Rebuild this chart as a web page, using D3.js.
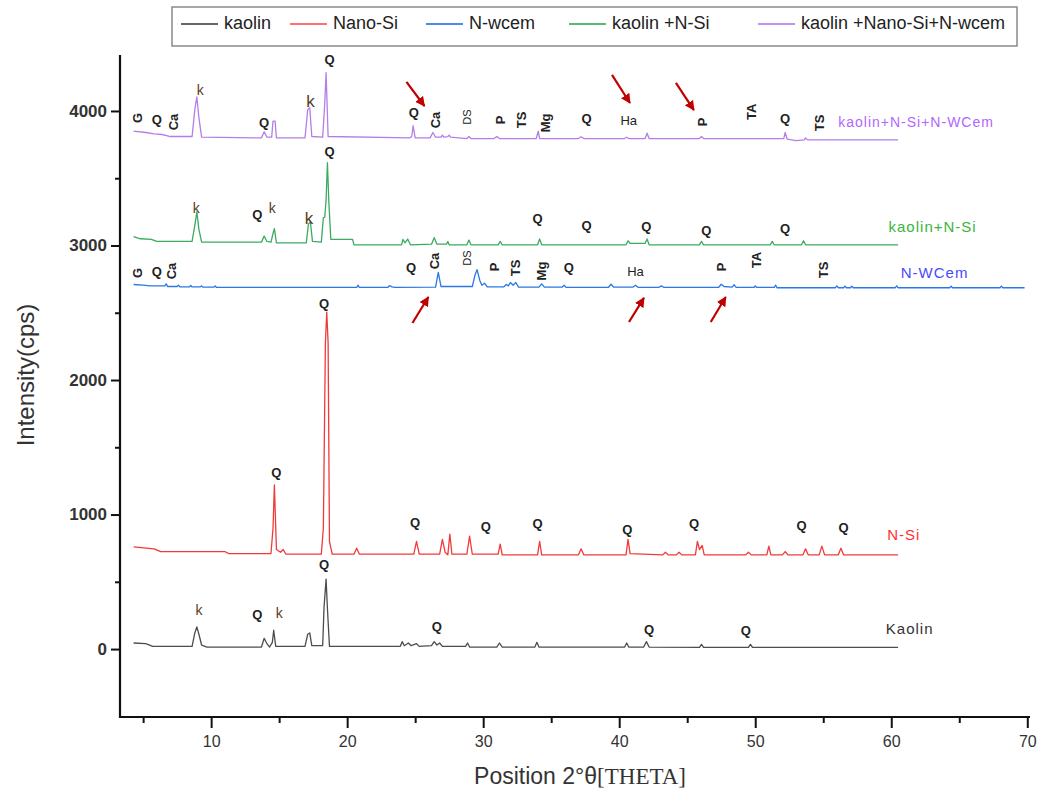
<!DOCTYPE html>
<html>
<head>
<meta charset="utf-8">
<script src="https://cdn.jsdelivr.net/npm/d3@7/dist/d3.min.js"></script>
<style>
  body { margin: 0; background: #fff; }
  svg { display: block; font-family: "Liberation Sans", Arial, sans-serif; }
</style>
</head>
<body>
<svg id="xrd-chart" width="1037" height="796"></svg>
<script>
// ---- data: [2theta, intensity(cps)] ----
const kaolin = [[4.3,45],[5.2,40],[5.7,20],[8.6,20],[8.8,120],[8.95,165],[9.1,110],[9.3,30],[9.7,15],[13.7,15],[13.9,80],[14.1,40],[14.3,15],[14.5,50],[14.6,140],[14.75,20],[16.9,20],[17.1,110],[17.25,120],[17.4,25],[18.2,25],[18.3,310],[18.45,520],[18.55,300],[18.7,20],[23.9,20],[24.05,55],[24.2,25],[24.5,45],[24.7,25],[25.1,40],[25.3,20],[26.2,25],[26.4,55],[26.6,30],[26.8,45],[27.0,20],[28.7,20],[28.85,45],[29.0,15],[31.0,15],[31.2,45],[31.4,15],[33.8,15],[33.95,50],[34.1,15],[40.4,15],[40.55,45],[40.7,15],[41.8,15],[42.0,55],[42.2,15],[45.9,12],[46.05,35],[46.2,12],[49.5,12],[49.65,35],[49.8,12],[60.5,12]];

const nanoSi = [[4.3,760],[5.8,745],[6.3,725],[11.0,725],[11.3,710],[14.4,710],[14.55,900],[14.65,1220],[14.8,740],[15.1,720],[15.3,740],[15.5,705],[18.1,705],[18.25,900],[18.4,2275],[18.5,2505],[18.6,2275],[18.7,800],[18.9,705],[20.5,705],[20.7,750],[20.9,705],[24.9,705],[25.1,800],[25.3,705],[26.8,705],[27.0,815],[27.2,720],[27.4,700],[27.55,855],[27.7,705],[28.8,705],[29.0,840],[29.2,705],[31.1,705],[31.25,780],[31.4,700],[34.0,700],[34.15,800],[34.3,700],[37.0,700],[37.2,745],[37.4,700],[40.5,700],[40.65,815],[40.8,710],[43.2,700],[43.4,720],[43.6,700],[44.2,700],[44.4,720],[44.6,700],[45.6,700],[45.75,800],[45.9,740],[46.1,770],[46.25,700],[49.3,700],[49.5,720],[49.7,700],[50.85,700],[51.0,765],[51.15,700],[52.0,700],[52.2,725],[52.4,700],[53.5,700],[53.7,745],[53.9,700],[54.7,700],[54.9,765],[55.1,700],[56.1,700],[56.3,750],[56.5,700],[60.5,700]];

const nWcem = [[4.3,2710],[5.0,2705],[5.5,2700],[6.6,2700],[6.7,2715],[6.8,2695],[7.5,2695],[7.6,2705],[7.7,2692],[8.4,2692],[8.5,2702],[8.6,2692],[9.2,2692],[9.3,2700],[9.4,2690],[10.2,2690],[10.3,2700],[10.4,2688],[20.7,2688],[20.8,2705],[20.9,2688],[23.0,2688],[23.1,2702],[23.3,2692],[23.5,2688],[26.5,2690],[26.7,2800],[26.9,2695],[29.2,2695],[29.4,2780],[29.55,2820],[29.75,2740],[29.9,2705],[30.1,2720],[30.3,2692],[31.5,2692],[31.7,2710],[31.85,2700],[32.0,2725],[32.2,2705],[32.4,2725],[32.6,2690],[34.1,2690],[34.3,2715],[34.5,2690],[35.8,2690],[35.95,2705],[36.1,2688],[39.2,2688],[39.4,2712],[39.6,2690],[41.0,2690],[41.2,2705],[41.4,2688],[42.9,2688],[43.1,2700],[43.3,2688],[47.3,2688],[47.5,2712],[47.7,2695],[48.3,2690],[48.45,2708],[48.6,2688],[49.9,2688],[50.0,2700],[50.1,2688],[51.4,2688],[51.5,2705],[51.6,2686],[55.9,2686],[56.0,2700],[56.1,2686],[56.5,2686],[56.6,2698],[56.7,2686],[57.0,2686],[57.1,2698],[57.2,2686],[60.3,2686],[60.4,2700],[60.5,2686],[64.3,2686],[64.4,2698],[64.5,2686],[68.0,2686],[68.1,2698],[68.2,2686],[69.8,2686]];

const kaolinNSi = [[4.3,3065],[4.8,3050],[5.6,3045],[6.0,3030],[8.6,3030],[8.8,3150],[8.95,3250],[9.1,3120],[9.3,3025],[13.7,3025],[13.9,3070],[14.1,3030],[14.4,3025],[14.55,3090],[14.65,3125],[14.8,3020],[17.0,3020],[17.15,3160],[17.3,3175],[17.45,3030],[18.1,3025],[18.25,3205],[18.35,3210],[18.45,3338],[18.55,3615],[18.65,3330],[18.8,3045],[20.4,3045],[20.5,3005],[24.0,3005],[24.1,3045],[24.25,3020],[24.45,3048],[24.65,3005],[26.2,3010],[26.4,3058],[26.6,3010],[27.3,3010],[27.4,3030],[27.5,3005],[28.8,3005],[28.95,3040],[29.1,3005],[31.1,3005],[31.25,3030],[31.4,3005],[34.0,3005],[34.15,3048],[34.3,3005],[40.5,3005],[40.65,3035],[40.8,3015],[41.9,3015],[42.05,3048],[42.2,3005],[45.9,3005],[46.05,3030],[46.2,3005],[51.1,3005],[51.25,3030],[51.4,3005],[53.4,3005],[53.55,3035],[53.7,3005],[60.5,3005]];

const kaolinAll = [[4.3,3850],[5.2,3840],[5.8,3830],[6.4,3825],[7.0,3810],[8.6,3810],[8.8,4010],[8.95,4105],[9.1,3950],[9.3,3805],[13.7,3800],[13.9,3845],[14.1,3805],[14.45,3805],[14.55,3925],[14.7,3925],[14.8,3800],[16.9,3800],[17.1,4010],[17.25,4025],[17.4,3810],[18.2,3805],[18.35,4050],[18.45,4285],[18.6,3810],[24.6,3800],[24.75,3810],[24.85,3890],[25.0,3800],[26.1,3800],[26.3,3840],[26.5,3805],[26.9,3805],[27.0,3820],[27.1,3805],[27.4,3810],[27.5,3820],[27.6,3805],[28.8,3795],[28.95,3810],[29.1,3795],[30.8,3795],[31.0,3810],[31.2,3795],[33.9,3795],[34.05,3850],[34.15,3795],[37.0,3795],[37.2,3808],[37.4,3795],[40.4,3795],[40.55,3805],[40.7,3795],[41.9,3795],[42.05,3835],[42.2,3795],[45.9,3795],[46.05,3810],[46.2,3795],[52.1,3795],[52.2,3840],[52.35,3790],[53.0,3780],[53.6,3785],[53.7,3800],[53.85,3785],[60.5,3785]];

// phase labels: [text, 2theta, intensity, rotated]
const kaolinLabels = [["k",9.1,290],["Q",13.4,260],["k",15.0,268],["Q",18.3,625],["Q",26.6,171],["Q",42.2,149],["Q",49.3,141]];
const nanoSiLabels = [["Q",14.8,1309],["Q",18.3,2572],["Q",25.0,944],["Q",30.2,914],["Q",34.0,937],["Q",40.6,892],["Q",45.5,937],["Q",53.4,922],["Q",56.5,900]];
const nWcemLabels = [["G",4.55,2796,1],["Q",6.0,2803],["Ca",7.1,2810,1],["Q",24.7,2833],["Ca",26.4,2885,1],["DS",28.8,2907,1],["P",30.8,2840,1],["TS",32.4,2833,1],["Mg",34.3,2810,1],["Q",36.3,2833],["Ha",41.2,2803],["P",47.5,2840,1],["TA",50.1,2892,1],["TS",55.0,2818,1]];
const kaolinNSiLabels = [["k",8.9,3279],["Q",13.4,3227],["k",14.5,3279],["K",17.2,3204],["Q",18.7,3695],["Q",34.0,3197],["Q",37.6,3145],["Q",42.0,3138],["Q",46.4,3115],["Q",52.2,3123]];
const kaolinAllLabels = [["G",4.55,3948,1],["Q",6.0,3933],["Ca",7.2,3918,1],["k",9.2,4156],["Q",13.9,3911],["K",17.3,4067],["Q",18.7,4379],["Q",24.9,3985],["Ca",26.5,3933,1],["DS",28.8,3955,1],["P",31.3,3933,1],["TS",32.8,3933,1],["Mg",34.6,3911,1],["Q",37.6,3941],["Ha",40.7,3926],["P",46.1,3918,1],["TA",49.7,3993,1],["Q",52.2,3941],["TS",54.7,3911,1]];

// red arrows: [tail 2theta, tail cps, head 2theta, head cps]
const arrows = [[24.36,4216,25.68,4037],[39.47,4268,40.79,4059],[44.17,4208,45.49,4007],[24.8,2424,25.97,2617],[40.72,2431,41.82,2610],[46.73,2431,47.83,2617]];

const seriesNames = ["kaolin", "Nano-Si", "N-wcem", "kaolin +N-Si", "kaolin +Nano-Si+N-wcem"];
const traceNames = ["Kaolin", "N-Si", "N-WCem", "kaolin+N-Si", "kaolin+N-Si+N-WCem"];
const traceNameAt = [[59.6,156],[59.7,848],[60.7,2796],[59.8,3138],[56.1,3918]];
const xTicks = [10, 20, 30, 40, 50, 60, 70];
const xMinor = [5, 15, 25, 35, 45, 55, 65];
const yTicks = [0, 1000, 2000, 3000, 4000];
const yMinor = [500, 1500, 2500, 3500];

const seriesData = [kaolin, nanoSi, nWcem, kaolinNSi, kaolinAll];
const seriesLabels = [kaolinLabels, nanoSiLabels, nWcemLabels, kaolinNSiLabels, kaolinAllLabels];
const colors = ['#4d4d4d', '#f03a3a', '#2a78e4', '#3caa60', '#b47ee8'];
const legendColors = ['#666', '#ff7070', '#4a8ce8', '#55bb77', '#c392f0'];
const nameColors = ['#333', '#ff3030', '#4a4aff', '#3cb43c', '#b266ff'];

const svg = d3.select('#xrd-chart');

const xScale = d3.scaleLinear().domain([3.3, 70.2]).range([120, 1030]);
const yScale = d3.scaleLinear().domain([-505, 4416]).range([717, 55]);

// axes
const xAxisG = svg.append('g').attr('transform', `translate(0, ${yScale.range()[0]})`);
xAxisG.call(d3.axisBottom(xScale).tickValues(xTicks).tickSize(11).tickPadding(8).tickFormat(d3.format('d')));
xAxisG.append('g').call(d3.axisBottom(xScale).tickValues(xMinor).tickSize(6).tickFormat(''));
xAxisG.selectAll('.domain').remove();
xAxisG.selectAll('line').attr('stroke', '#111').attr('stroke-width', 2);
xAxisG.selectAll('text').attr('font-size', 16).attr('fill', '#333');

const yAxisG = svg.append('g').attr('transform', `translate(${xScale.range()[0]}, 0)`);
yAxisG.call(d3.axisLeft(yScale).tickValues(yTicks).tickSize(9).tickPadding(4).tickFormat(d3.format('d')));
yAxisG.append('g').call(d3.axisLeft(yScale).tickValues(yMinor).tickSize(5).tickFormat(''));
yAxisG.selectAll('.domain').remove();
yAxisG.selectAll('line').attr('stroke', '#111').attr('stroke-width', 2);
yAxisG.selectAll('text').attr('font-size', 17).attr('font-weight', 'bold').attr('fill', '#333');

// axis lines
svg.append('line')
  .attr('x1', xScale.range()[0]).attr('x2', xScale.range()[0])
  .attr('y1', yScale.range()[1]).attr('y2', yScale.range()[0] + 1)
  .attr('stroke', '#111').attr('stroke-width', 2.2);
svg.append('line')
  .attr('x1', xScale.range()[0] - 1).attr('x2', xScale.range()[1])
  .attr('y1', yScale.range()[0]).attr('y2', yScale.range()[0])
  .attr('stroke', '#111').attr('stroke-width', 2.2);

// axis titles
const xTitle = svg.append('text')
  .attr('x', 580).attr('y', 784)
  .attr('text-anchor', 'middle')
  .attr('font-size', 23).attr('fill', '#333');
xTitle.append('tspan').text('Position 2°θ');
xTitle.append('tspan').attr('font-family', '"Liberation Serif", serif').text('[THETA]');

svg.append('text')
  .attr('transform', 'translate(34, 375) rotate(-90)')
  .attr('text-anchor', 'middle')
  .attr('font-size', 24).attr('fill', '#333')
  .text('Intensity(cps)');

// traces
const lineGenerator = d3.line()
  .x((d) => xScale(d[0]))
  .y((d) => yScale(d[1]));

svg.append('g').attr('id', 'lines')
  .selectAll('path')
  .data(seriesData)
  .join('path')
  .attr('d', lineGenerator)
  .attr('fill', 'none')
  .attr('stroke', (d, i) => colors[i])
  .attr('stroke-width', 1.3)
  .attr('stroke-linejoin', 'round');

// phase labels
const labelG = svg.append('g').attr('id', 'phase-labels');
seriesLabels.forEach((labels) => {
  labels.forEach((l) => {
    const px = xScale(l[1]), py = yScale(l[2]);
    const isK = l[0] === 'k' || l[0] === 'K';
    let size = 13;
    if (l[3]) size = l[0] === 'DS' ? 11 : 13;
    else if (l[0] === 'K') size = 17;
    else if (isK) size = 14;
    labelG.append('text')
      .attr('transform', l[3] ? `translate(${px},${py}) rotate(-90)` : `translate(${px},${py})`)
      .attr('text-anchor', 'middle')
      .attr('dominant-baseline', 'central')
      .attr('font-size', size)
      .attr('font-weight', (l[0] === 'Q' || (l[3] && l[0] !== 'DS')) ? 'bold' : 'normal')
      .attr('fill', isK ? '#5b3b22' : '#222')
      .text(l[0] === 'K' ? 'k' : l[0]);
  });
});

// trace names
svg.append('g').selectAll('text')
  .data(traceNames)
  .join('text')
  .attr('x', (d, i) => xScale(traceNameAt[i][0]))
  .attr('y', (d, i) => yScale(traceNameAt[i][1]))
  .attr('dominant-baseline', 'central')
  .attr('font-size', (d, i) => i === 4 ? 14 : 15)
  .attr('letter-spacing', 1)
  .attr('fill', (d, i) => nameColors[i])
  .text((d) => d);

// arrows
svg.append('defs').append('marker')
  .attr('id', 'arrowhead')
  .attr('viewBox', '0 0 10 10')
  .attr('refX', 9).attr('refY', 5)
  .attr('markerWidth', 4.5).attr('markerHeight', 4.5)
  .attr('markerUnits', 'strokeWidth')
  .attr('orient', 'auto')
  .append('path')
  .attr('d', 'M0,0 L10,5 L0,10 Z')
  .attr('fill', '#c00000');

svg.append('g').selectAll('line')
  .data(arrows)
  .join('line')
  .attr('x1', (d) => xScale(d[0])).attr('y1', (d) => yScale(d[1]))
  .attr('x2', (d) => xScale(d[2])).attr('y2', (d) => yScale(d[3]))
  .attr('stroke', '#c00000')
  .attr('stroke-width', 2.2)
  .attr('marker-end', 'url(#arrowhead)');

// legend
const legendBox = { x: 172, y: 7, w: 845, h: 39 };
svg.append('clipPath').attr('id', 'legend-clip')
  .append('rect')
  .attr('x', legendBox.x).attr('y', legendBox.y)
  .attr('width', legendBox.w - 2).attr('height', legendBox.h);
const legendLineX = [181, 290, 426, 569, 758];
const legend = svg.append('g').attr('clip-path', 'url(#legend-clip)');
legend.selectAll('line')
  .data(seriesNames)
  .join('line')
  .attr('x1', (d, i) => legendLineX[i]).attr('x2', (d, i) => legendLineX[i] + 37)
  .attr('y1', 24).attr('y2', 24)
  .attr('stroke', (d, i) => legendColors[i])
  .attr('stroke-width', 2);
legend.selectAll('text')
  .data(seriesNames)
  .join('text')
  .attr('x', (d, i) => legendLineX[i] + 43)
  .attr('y', 23)
  .attr('dominant-baseline', 'central')
  .attr('font-size', 18)
  .attr('fill', '#222')
  .text((d) => d);
svg.append('rect')
  .attr('x', legendBox.x).attr('y', legendBox.y)
  .attr('width', legendBox.w).attr('height', legendBox.h)
  .attr('fill', 'none')
  .attr('stroke', '#8a8a8a')
  .attr('stroke-width', 1.5);
</script>
</body>
</html>
